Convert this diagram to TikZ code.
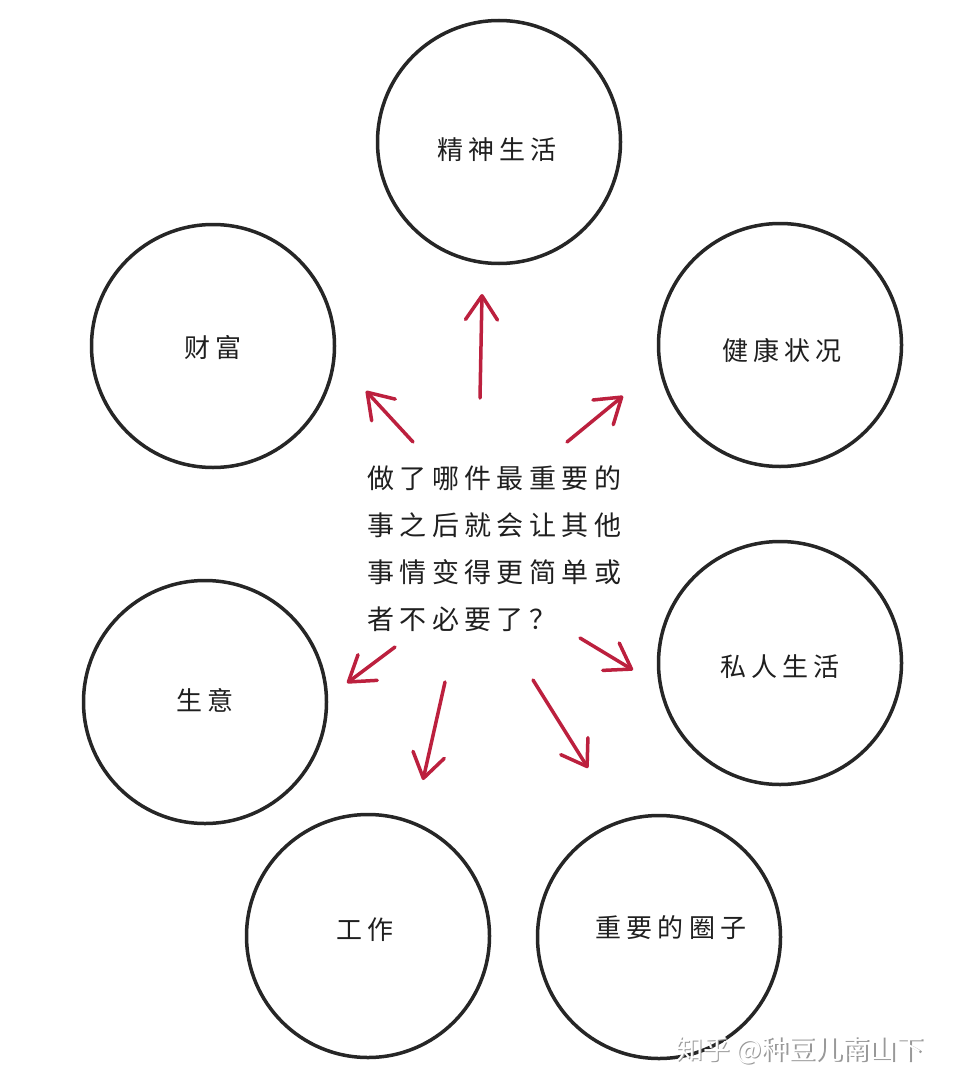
\documentclass[tikz,border=0pt]{standalone}
\usepackage{fontspec}
\newfontfamily\cjk[LetterSpace=20]{Noto Sans CJK SC}
\newfontfamily\cjkplain{Noto Sans CJK SC}
\usetikzlibrary{arrows.meta}
\definecolor{inkgray}{RGB}{38,38,38}
\definecolor{inkred}{RGB}{188,32,62}
\begin{document}
\begin{tikzpicture}[x=1pt,y=-1pt,
  bubble/.style={circle, draw=inkgray, line width=3.5pt, minimum size=243pt, inner sep=0pt},
  lbl/.style={inner sep=0pt, text=black!88, font=\cjk\fontsize{26}{26}\selectfont},
  question/.style={inner sep=0pt, anchor=west, align=left, text=black!88, font=\cjk\fontsize{27}{47}\selectfont},
  redarrow/.style={draw=inkred, line width=3.5pt, line cap=round,
    -{Straight Barb[length=24pt,width=32pt,line cap=round,line join=round]}},
  wmtext/.style={inner sep=0pt, font=\cjkplain\fontsize{27}{27}\selectfont}
]
\useasboundingbox[fill=white] (0,0) rectangle (956,1089);

% circles
\node[bubble] (c1) at (499,142) {};
\node[bubble] (c2) at (213,346) {};
\node[bubble] (c3) at (780,345) {};
\node[bubble] (c4) at (205,702) {};
\node[bubble] (c5) at (780,663) {};
\node[bubble] (c6) at (368,936) {};
\node[bubble] (c7) at (659,937) {};

% labels
\node[lbl] (t1) at (497,150) {精神生活};
\node[lbl] (t2) at (213,348) {财富};
\node[lbl] (t3) at (782,350) {健康状况};
\node[lbl] (t4) at (205,700) {生意};
\node[lbl] (t5) at (780,667) {私人生活};
\node[lbl] (t6) at (365,930) {工作};
\node[lbl] (t7) at (671,928) {重要的圈子};

% central question
\node[question] (q) at (367,549) {做了哪件最重要的\\事之后就会让其他\\事情变得更简单或\\者不必要了？};

% arrow end points
\coordinate (s1) at (480,398); \coordinate (e1) at (482,294);
\coordinate (s2) at (413,442); \coordinate (e2) at (366,391);
\coordinate (s3) at (567,442); \coordinate (e3) at (623,396);
\coordinate (s4) at (395,647); \coordinate (e4) at (347,683);
\coordinate (s5) at (445,682); \coordinate (e5) at (423,780);
\coordinate (s6) at (533,680); \coordinate (e6) at (588,768);
\coordinate (s7) at (580,638); \coordinate (e7) at (633,670);

\draw[redarrow] (s1) -- (e1);
\draw[redarrow] (s2) -- (e2);
\draw[redarrow] (s3) -- (e3);
\draw[redarrow] (s4) -- (e4);
\draw[redarrow] (s5) -- (e5);
\draw[redarrow] (s6) -- (e6);
\draw[redarrow] (s7) -- (e7);

% watermark
\node[wmtext, text=black!40] (wmshadow) at (801.5,1051.5) {知乎 @种豆儿南山下};
\node[wmtext, text=white] (wm) at (800,1050) {知乎 @种豆儿南山下};
\end{tikzpicture}
\end{document}
